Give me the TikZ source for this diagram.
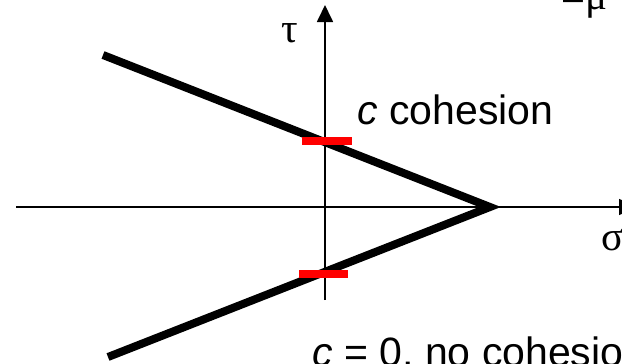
\documentclass[tikz,border=0pt]{standalone}
\usepackage{fontspec}
\setmainfont{Liberation Sans}
\newfontfamily\greekfont{Liberation Serif}
\usetikzlibrary{arrows.meta}
\definecolor{markred}{RGB}{255,0,0}
\tikzset{
  axis/.style={-{Triangle[length=12.75pt,width=12pt]}, line width=1.3pt},
  envelope/.style={line width=6pt},
  cmark/.style={markred, line width=5.5pt},
  lbl/.style={inner sep=0pt, font=\fontsize{30.75}{36}\selectfont},
  glbl/.style={inner sep=0pt, font=\fontsize{31}{36}\selectfont\greekfont}
}

\begin{document}
\begin{tikzpicture}[x=0.75pt,y=-0.75pt]
\useasboundingbox (0,0) rectangle (622,364);

% axes
\coordinate (sigstart) at (16,207);
\coordinate (sigend) at (636,207);
\coordinate (taustart) at (325,300);
\coordinate (tauend) at (325,5);
\draw[axis] (sigstart) -- (sigend);
\draw[axis] (taustart) -- (tauend);

% failure envelope
\coordinate (apex) at (490,207);
\coordinate (upper) at (103,55);
\coordinate (lower) at (108,357);
\draw[envelope] (upper) -- (apex) -- (lower);

% cohesion marks
\draw[cmark] (302,141) -- (352,141);
\draw[cmark] (299,274) -- (348,274);

% labels
\node[glbl] (taulbl) at (289.5,33.5) {τ};
\node[glbl, anchor=west] (siglbl) at (601,240) {σ};
\node[lbl, anchor=base west] (cohlbl) at (357,124) {\textit{c} cohesion};
\node[lbl, anchor=base west] (nocohlbl) at (312,366) {\textit{c} = 0, no cohesion};
\node[lbl, anchor=base west] (lawlbl) at (561,9) {={\greekfont μ}};

\end{tikzpicture}
\end{document}
